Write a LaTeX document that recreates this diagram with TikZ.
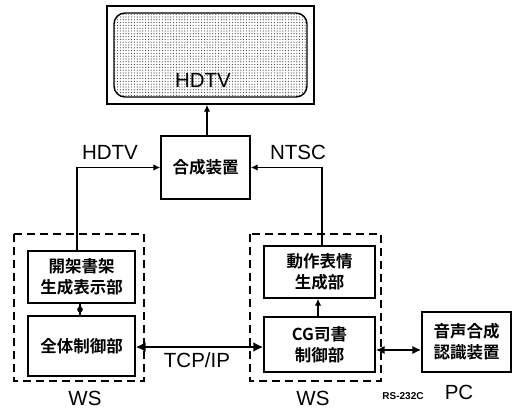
\documentclass[tikz,border=0pt]{standalone}
\usepackage{fontspec}
\setmainfont{Liberation Sans}
\newfontfamily\cjk{Noto Sans CJK JP Bold}
\usetikzlibrary{arrows.meta,patterns.meta,calc}
\begin{document}
\begin{tikzpicture}[x=1pt,y=-1pt,
  box/.style={draw,line width=1.4pt,inner sep=0pt,align=center,font=\cjk\fontsize{16.5}{21}\selectfont},
  wsbox/.style={draw,dashed,line width=1.4pt,dash pattern=on 8pt off 5pt},
  conn/.style={line width=1.3pt,-{Latex[length=7pt,width=6.5pt]}},
  lab/.style={font=\fontsize{20.5}{22}\selectfont,inner sep=0pt}]
\useasboundingbox (0,0) rectangle (514,409);
% TV
\node[draw,line width=1.5pt,minimum width=207pt,minimum height=98pt] (tv) at (210.5,55) {};
\node[draw,line width=1.4pt,rounded corners=11pt,minimum width=193pt,minimum height=84pt,
  fill=gray!30,pattern={Dots[distance=2.8pt,radius=0.6pt]},pattern color=black!75] (screen) at (210.5,55) {};
\node[lab] (tvlab) at (203,80) {HDTV};
% boxes
\node[box,minimum width=89pt,minimum height=63pt] (synth) at (205.5,167.5) {合成装置};
\node[box,minimum width=107pt,minimum height=52pt] (kaika) at (81.5,277) {開架書架\\生成表示部};
\node[box,minimum width=107pt,minimum height=60pt] (zentai) at (81.5,346) {全体制御部};
\node[box,minimum width=111pt,minimum height=52pt] (dosa) at (319.5,272) {動作表情\\生成部};
\node[box,minimum width=111pt,minimum height=55pt] (cg) at (319.5,344.5) {CG司書\\制御部};
\node[box,minimum width=89pt,minimum height=60pt] (pc) at (466.5,342) {音声合成\\認識装置};
% dashed WS boxes
\draw[wsbox] (14,234) rectangle (144,381);
\draw[wsbox] (250,234) rectangle (381,381);
% labels
\node[lab] (lh) at (110,152) {HDTV};
\node[lab] (ln) at (298,152) {NTSC};
\node[lab] (ltcp) at (197,360) {TCP/IP};
\node[lab] (lws1) at (85,398) {WS};
\node[lab] (lws2) at (313,398) {WS};
\node[lab] (lpc) at (459,392) {PC};
\node[font=\bfseries\fontsize{10}{12}\selectfont,inner sep=0pt] (lrs) at (403,396) {RS-232C};
% connectors
\coordinate (h1) at (77,168);
\coordinate (n1) at (322,168);
\coordinate (t1) at (207,0);
\coordinate (k1) at (80,0);
\coordinate (c1) at (318,0);
\coordinate (tcp) at (0,347);
\coordinate (rs) at (0,350);
\draw[conn] (synth.north -| t1) -- (tv.south -| t1);
\draw[conn] (kaika.north -| h1) |- (synth.west);
\draw[conn] (dosa.north -| n1) |- (synth.east);
\draw[line width=1.3pt] (zentai.north -| k1) -- (kaika.south -| k1);
\fill ($(zentai.north -| k1)!0.5!(kaika.south -| k1)$) circle (2.8pt);
\draw[conn] (cg.north -| c1) -- (dosa.south -| c1);
\draw[line width=2.4pt,{Latex[length=10pt,width=10pt]}-{Latex[length=10pt,width=10pt]}] (zentai.east |- tcp) -- (cg.west |- tcp);
\draw[line width=2pt,{Latex[length=9pt,width=8.5pt]}-{Latex[length=9pt,width=8.5pt]}] (cg.east |- rs) -- (pc.west |- rs);
\end{tikzpicture}
\end{document}
